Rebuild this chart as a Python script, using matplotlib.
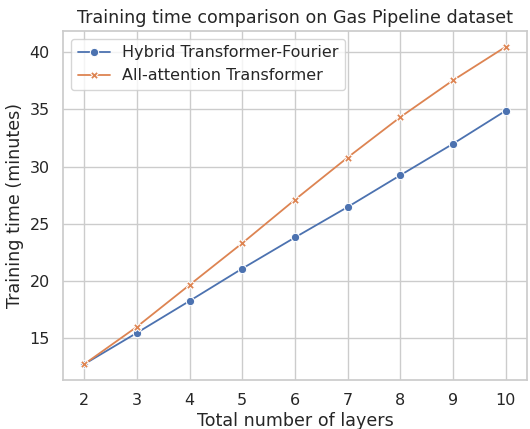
import matplotlib
matplotlib.use("Agg")
import matplotlib.pyplot as plt
import pandas as pd
import seaborn as sns

layers = [2, 3, 4, 5, 6, 7, 8, 9, 10]
hybrid_time = [12.72, 15.46, 18.25, 21.08, 23.80, 26.46, 29.24, 31.99, 34.88]
attention_time = [12.72, 15.99, 19.65, 23.30, 27.10, 30.79, 34.32, 37.54, 40.47]
model_names = ["Hybrid Transformer-Fourier", "All-attention Transformer"]

df = pd.DataFrame({
    "layers": layers * 2,
    "time": hybrid_time + attention_time,
    "model": [model_names[0]] * len(layers) + [model_names[1]] * len(layers),
})

sns.set_theme(style="whitegrid", context="notebook", font_scale=1.05)

fig, ax = plt.subplots(figsize=(5.3, 4.29), dpi=100)
sns.lineplot(data=df, x="layers", y="time", hue="model", style="model",
             markers=True, dashes=False, linewidth=1.3, markersize=6, ax=ax)
ax.legend(loc="upper left")
ax.set_xticks(layers)
ax.set_xlabel("Total number of layers", labelpad=3)
ax.set_ylabel("Training time (minutes)")
ax.set_title("Training time comparison on Gas Pipeline dataset")
fig.subplots_adjust(left=0.119, right=0.994, bottom=0.114, top=0.928)
fig.savefig("out.png", dpi=100)
